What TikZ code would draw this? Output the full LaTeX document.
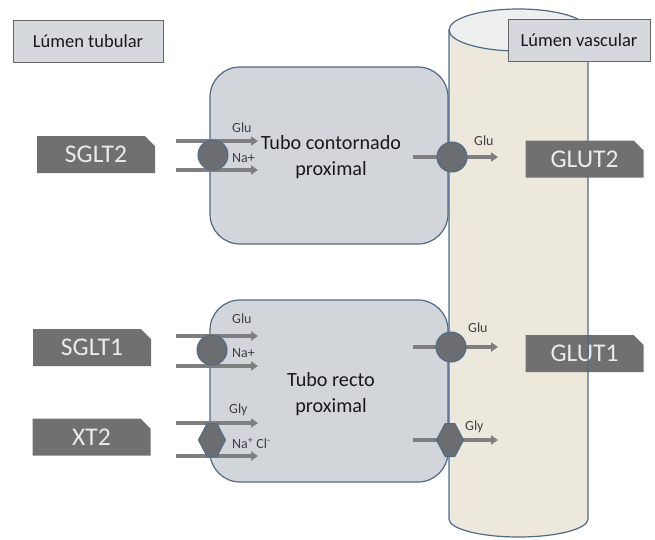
\documentclass[tikz,border=0pt]{standalone}
\usepackage{fontspec}
\setmainfont{Carlito}
\usetikzlibrary{arrows.meta,shapes.misc,shapes.symbols}
\definecolor{ccLine}{HTML}{4F6A86}
\definecolor{ccCell}{HTML}{D2D6DB}
\definecolor{ccTag}{HTML}{707070}
\definecolor{ccPump}{HTML}{6C6D70}
\definecolor{ccFlow}{HTML}{7F7F7F}
\definecolor{ccVessel}{HTML}{ECE8DC}
\definecolor{ccTop}{HTML}{EEF0F0}
\definecolor{ccBox}{HTML}{D5D9DE}

\begin{document}
\begin{tikzpicture}[x=1pt,y=-1pt,
  cell/.style={draw=ccLine, fill=ccCell, line width=1.2pt, rounded corners=30pt},
  tag/.style={chamfered rectangle, chamfered rectangle corners=north east,
    chamfered rectangle xsep=5pt, chamfered rectangle ysep=5pt,
    fill=ccTag, text=white!92!black, minimum width=118pt, minimum height=37pt,
    inner sep=0pt, font=\fontsize{25.5}{25.5}\selectfont},
  lumen/.style={draw=black!60, fill=ccBox, line width=1pt, minimum height=42pt,
    inner sep=0pt, text=black!90, font=\fontsize{18.5}{18.5}\selectfont},
  flow/.style={draw=ccFlow, line width=3.5pt, -{Triangle[length=7pt,width=9pt]}},
  pump/.style={circle, draw=ccLine, fill=ccPump, line width=1pt,
    minimum size=30pt, inner sep=0pt},
  hexa/.style={signal, signal to=east and west, signal pointer angle=125,
    draw=ccLine, fill=ccPump, line width=1pt, minimum width=27pt,
    minimum height=33pt, inner sep=0pt},
  ion/.style={anchor=west, inner sep=0pt, text=black!75,
    font=\fontsize{14}{14}\selectfont},
  txt/.style={align=center, text=black!90, font=\fontsize{20.2}{26}\selectfont}]
\useasboundingbox (0,0) rectangle (655,539);

% vaso
\fill[ccVessel] (449,30) -- (449,519)
  arc[start angle=180, end angle=360, x radius=69.5pt, y radius=18pt] -- (588,30) -- cycle;
\draw[ccLine, line width=1.2pt, fill=ccTop] (518.5,30) ellipse [x radius=69.5pt, y radius=21pt];

% celulas
\draw[cell] (210,67) rectangle (448,244);
\draw[cell] (210,300) rectangle (448,482);
\node[txt] (tcp) at (331,157) {Tubo contornado\\proximal};
\node[txt] (trp) at (331,394) {Tubo recto\\proximal};

\node[tag] (glut1) at (584.5,353.5) {GLUT1};
\draw[ccLine, line width=1.2pt] (449,30) -- (449,519)
  arc[start angle=180, end angle=360, x radius=69.5pt, y radius=18pt] -- (588,30);

\node[lumen, minimum width=150pt] (lt) at (88,41) {Lúmen tubular};
\node[lumen, minimum width=142pt] (lv) at (579,40) {Lúmen vascular};

\node[tag] (sglt2) at (96,154.5) {SGLT2};
\node[tag] (glut2) at (584.5,159) {GLUT2};
\node[tag] (sglt1) at (92,347.5) {SGLT1};
\node[tag] (xt2) at (91.5,437) {XT2};

% flujos
\coordinate (a1) at (176,141); \coordinate (b1) at (258,141);
\coordinate (a2) at (176,170); \coordinate (b2) at (258,170);
\coordinate (a3) at (413,157); \coordinate (b3) at (498,157);
\coordinate (a4) at (176,336); \coordinate (b4) at (258,336);
\coordinate (a5) at (176,366); \coordinate (b5) at (258,366);
\coordinate (a6) at (413,347); \coordinate (b6) at (498,347);
\coordinate (a7) at (176,423); \coordinate (b7) at (258,423);
\coordinate (a8) at (176,456); \coordinate (b8) at (258,456);
\coordinate (a9) at (413,440); \coordinate (b9) at (498,440);
\foreach \i in {1,...,9}
  \draw[flow] (a\i) -- (b\i);

\node[pump] (p1) at (213,155) {};
\node[pump] (p2) at (452,157) {};
\node[pump] (p3) at (212,350) {};
\node[pump] (p4) at (451,347) {};
\node[hexa] (h1) at (212,440) {};
\node[hexa] (h2) at (450,440) {};

\node[ion] (glu1) at (232,128) {Glu};
\node[ion] (na1) at (232,158) {Na+};
\node[ion] (glu2) at (474,141) {Glu};
\node[ion] (glu3) at (232,319) {Glu};
\node[ion] (na2) at (232,353) {Na+};
\node[ion] (glu4) at (468,328) {Glu};
\node[ion] (gly1) at (229,410) {Gly};
\node[ion] (nacl) at (232,443) {Na\textsuperscript{+} Cl\textsuperscript{-}};
\node[ion] (gly2) at (465,427) {Gly};
\end{tikzpicture}
\end{document}
